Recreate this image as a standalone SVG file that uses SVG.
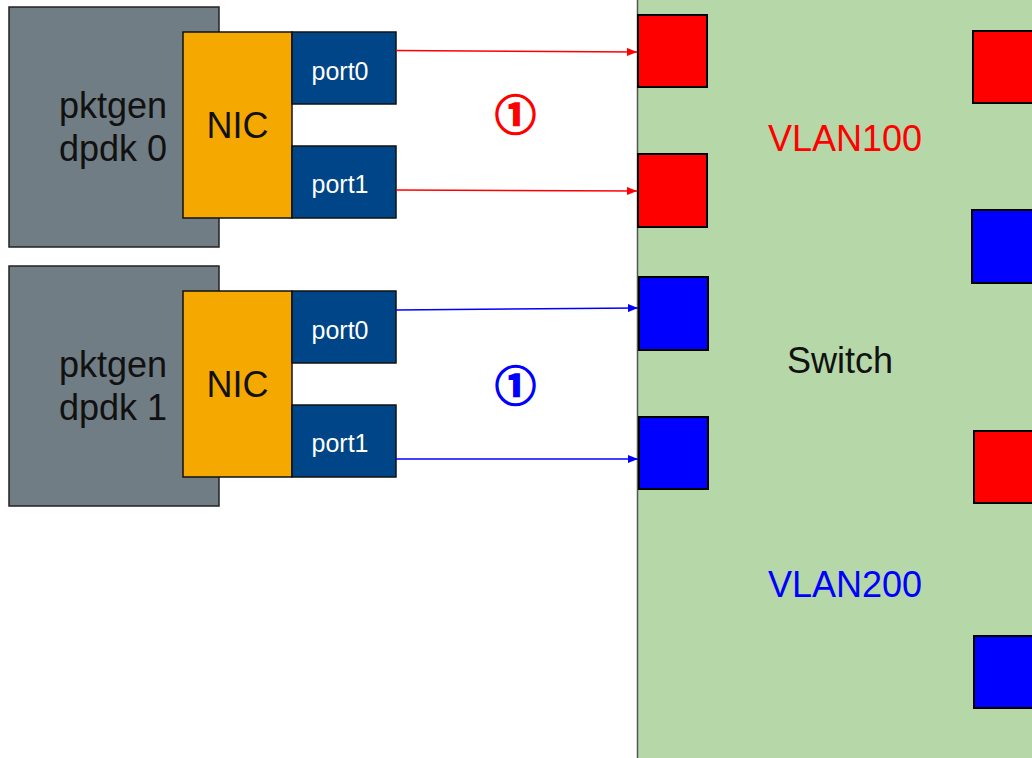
<svg xmlns="http://www.w3.org/2000/svg" width="1032" height="758" viewBox="0 0 1032 758">
  <defs>
    <style>
      .host { fill: #707d84; stroke: #222; stroke-width: 1.5; }
      .nic { fill: #f5a900; stroke: #111; stroke-width: 1.5; }
      .port { fill: #004587; stroke: #111; stroke-width: 1.5; }
      .sw { fill: #b6d7a8; stroke: #555; stroke-width: 1.5; }
      .red { fill: #ff0000; stroke: #000; stroke-width: 2; }
      .blue { fill: #0000ff; stroke: #000; stroke-width: 2; }
      .big { font-family: "Liberation Sans", Arial, sans-serif; font-size: 36px; fill: #111; }
      .pt { font-family: "Liberation Sans", Arial, sans-serif; font-size: 25px; fill: #fff; text-anchor: middle; }
      .num { font-family: "Noto Sans CJK SC", "DejaVu Sans", sans-serif; font-size: 41px; font-weight: bold; text-anchor: middle; stroke-width: 1.6; }
    </style>
    <marker id="ar" viewBox="0 0 10 8" refX="10" refY="4" markerWidth="10" markerHeight="8" markerUnits="userSpaceOnUse" orient="auto">
      <path d="M0,0 L10,4 L0,8 Z" fill="#ff0000"/>
    </marker>
    <marker id="ab" viewBox="0 0 10 8" refX="10" refY="4" markerWidth="10" markerHeight="8" markerUnits="userSpaceOnUse" orient="auto">
      <path d="M0,0 L10,4 L0,8 Z" fill="#0000ff"/>
    </marker>
  </defs>
  <rect width="1032" height="758" fill="#fff"/>

  <g id="switch">
    <rect class="sw" x="637.5" y="-5" width="420" height="780"/>
    <text class="big" x="840" y="373" text-anchor="middle">Switch</text>
    <text class="big" x="845" y="151" text-anchor="middle" style="fill:#ff0000">VLAN100</text>
    <text class="big" x="845" y="597" text-anchor="middle" style="fill:#0000ff">VLAN200</text>
  </g>
  <g id="sw-port-l1"><rect class="red" x="638" y="15" width="69" height="72"/></g>
  <g id="sw-port-l2"><rect class="red" x="638" y="154" width="69" height="73"/></g>
  <g id="sw-port-l3"><rect class="blue" x="639" y="277" width="69" height="73"/></g>
  <g id="sw-port-l4"><rect class="blue" x="639" y="417" width="69" height="72"/></g>
  <g id="sw-port-r1"><rect class="red" x="973" y="31" width="80" height="72"/></g>
  <g id="sw-port-r2"><rect class="blue" x="972" y="210" width="80" height="73"/></g>
  <g id="sw-port-r3"><rect class="red" x="974" y="431" width="80" height="72"/></g>
  <g id="sw-port-r4"><rect class="blue" x="974" y="636" width="80" height="72"/></g>

  <g id="host0">
    <rect class="host" x="9" y="7" width="210" height="240"/>
    <text class="big" x="113" y="118" text-anchor="middle">pktgen</text>
    <text class="big" x="113" y="161" text-anchor="middle">dpdk 0</text>
  </g>
  <g id="nic0">
    <rect class="nic" x="183" y="32" width="109" height="186"/>
    <text class="big" x="237.5" y="138" text-anchor="middle">NIC</text>
  </g>
  <g id="h0-port0">
    <rect class="port" x="292" y="32" width="104" height="72"/>
    <text class="pt" x="340" y="80">port0</text>
  </g>
  <g id="h0-port1">
    <rect class="port" x="292" y="146" width="104" height="72"/>
    <text class="pt" x="340" y="193">port1</text>
  </g>

  <g id="host1">
    <rect class="host" x="9" y="266" width="210" height="240"/>
    <text class="big" x="113" y="377" text-anchor="middle">pktgen</text>
    <text class="big" x="113" y="420" text-anchor="middle">dpdk 1</text>
  </g>
  <g id="nic1">
    <rect class="nic" x="183" y="291" width="109" height="186"/>
    <text class="big" x="237.5" y="397" text-anchor="middle">NIC</text>
  </g>
  <g id="h1-port0">
    <rect class="port" x="292" y="291" width="104" height="72"/>
    <text class="pt" x="340" y="339">port0</text>
  </g>
  <g id="h1-port1">
    <rect class="port" x="292" y="405" width="104" height="72"/>
    <text class="pt" x="340" y="452">port1</text>
  </g>

  <g id="connectors" stroke-width="1.5" fill="none">
    <line x1="396" y1="50.5" x2="637" y2="52" stroke="#ff0000" marker-end="url(#ar)"/>
    <line x1="396" y1="190" x2="637" y2="191" stroke="#ff0000" marker-end="url(#ar)"/>
    <line x1="396" y1="310" x2="638" y2="308" stroke="#0000ff" marker-end="url(#ab)"/>
    <line x1="396" y1="459" x2="638" y2="459" stroke="#0000ff" marker-end="url(#ab)"/>
  </g>

  <g id="labels">
    <text class="num" x="515.5" y="130" fill="#ff0000" stroke="#ff0000">①</text>
    <text class="num" x="515.5" y="401" fill="#0000ff" stroke="#0000ff">①</text>
  </g>
</svg>
